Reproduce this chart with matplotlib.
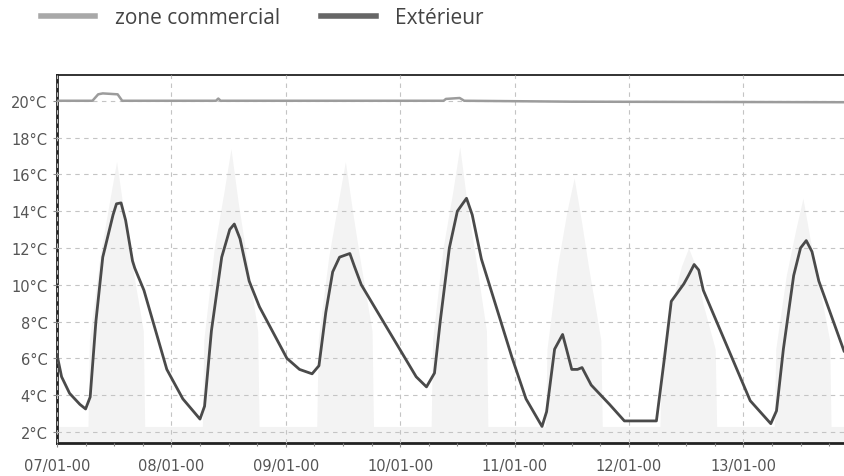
"""Zone commercial vs outdoor temperature, 07/01 - 13/01"""

import numpy as np
import matplotlib.pyplot as plt
from matplotlib.lines import Line2D

# Time in days since 07/01 00:00
EXT_DAYS = [0.00, 0.04, 0.11, 0.20, 0.25, 0.29, 0.34, 0.40, 0.49, 0.52, 0.56,
            0.60, 0.66, 0.68, 0.76, 0.96, 1.10, 1.25, 1.29, 1.35, 1.44, 1.51,
            1.55, 1.60, 1.68, 1.77, 2.01, 2.12, 2.23, 2.29, 2.35, 2.41, 2.47,
            2.56, 2.60, 2.66, 3.14, 3.23, 3.30, 3.35, 3.43, 3.50, 3.58, 3.63,
            3.71, 3.98, 4.10, 4.24, 4.28, 4.35, 4.42, 4.45, 4.50, 4.55, 4.59,
            4.67, 4.83, 4.96, 5.24, 5.31, 5.37, 5.48, 5.52, 5.57, 5.61, 5.65,
            6.06, 6.24, 6.29, 6.35, 6.44, 6.50, 6.55, 6.60, 6.66, 6.88]
EXT_TEMP = [6.2, 5.0, 4.1, 3.5, 3.25, 3.9, 8.0, 11.5, 13.8, 14.4, 14.45,
            13.5, 11.3, 10.9, 9.7, 5.4, 3.8, 2.7, 3.4, 7.5, 11.5, 13.0,
            13.3, 12.5, 10.2, 8.8, 6.0, 5.4, 5.16, 5.6, 8.5, 10.7, 11.5,
            11.7, 11.0, 10.0, 5.0, 4.45, 5.2, 8.0, 12.0, 14.0, 14.7, 13.8,
            11.4, 6.0, 3.8, 2.3, 3.1, 6.5, 7.3, 6.6, 5.4, 5.4, 5.5,
            4.55, 3.5, 2.6, 2.6, 6.0, 9.1, 10.05, 10.5, 11.1, 10.8, 9.7,
            3.7, 2.45, 3.15, 6.5, 10.5, 12.0, 12.4, 11.8, 10.2, 6.4]

ZONE_DAYS = [0.00, 0.31, 0.36, 0.40, 0.53, 0.57, 1.39, 1.41, 1.43, 3.38,
             3.40, 3.52, 3.56, 4.50, 6.88]
ZONE_TEMP = [20.0, 20.0, 20.35, 20.4, 20.35, 20.0, 20.0, 20.12, 20.0, 20.0,
             20.1, 20.15, 20.0, 19.95, 19.92]

# Light background series (daily peaks), read at fixed hours of each day
SUN_BASE = 2.3
SUN_HOURS = [6.5, 6.8, 9.0, 11.0, 12.5, 14.0, 15.5, 18.1, 18.4]
SUN_PEAKS = [
    [2.3, 7.0, 11.5, 14.5, 16.7, 14.0, 11.5, 7.5, 2.3],
    [2.3, 7.0, 12.0, 15.0, 17.4, 14.5, 12.0, 7.5, 2.3],
    [2.3, 7.0, 11.5, 14.5, 16.7, 14.0, 11.5, 7.5, 2.3],
    [2.3, 7.0, 12.0, 15.0, 17.5, 14.5, 12.0, 7.5, 2.3],
    [2.3, 6.5, 11.0, 14.0, 15.8, 13.5, 11.0, 7.0, 2.3],
    [2.3, 6.0, 9.0, 11.0, 12.0, 11.0, 9.0, 6.5, 2.3],
    [2.3, 6.5, 10.5, 13.0, 14.7, 12.5, 10.5, 7.0, 2.3],
]

DAY_LABELS = ["07/01-00", "08/01-00", "09/01-00", "10/01-00",
              "11/01-00", "12/01-00", "13/01-00"]
Y_TICKS = [2, 4, 6, 8, 10, 12, 14, 16, 18, 20]

RANGE_X = (0, 6.88)
RANGE_Y = (1.4, 21.4)
DPI = 100

# -----------------------------------------------------------------------------
sun_x = []
sun_y = []
for i, vals in enumerate(SUN_PEAKS):
    sun_x.append(i)
    sun_y.append(SUN_BASE)
    for h, v in zip(SUN_HOURS, vals):
        sun_x.append(i + h / 24.)
        sun_y.append(v)
sun_x.append(RANGE_X[1])
sun_y.append(SUN_BASE)

fig = plt.figure(figsize=(844 / DPI, 477 / DPI), dpi=DPI)
ax = fig.add_axes([57 / 844, 1 - 444 / 477, 1 - 57 / 844, (444 - 76) / 477])

ax.fill_between(sun_x, RANGE_Y[0], sun_y, color="#f3f3f3", lw=0, zorder=1)
ax.plot(ZONE_DAYS, ZONE_TEMP, color="#9c9c9c", lw=1.8, zorder=3)
ax.plot(EXT_DAYS, EXT_TEMP, color="#4a4a4a", lw=2.0, zorder=4)

ax.set_xlim(RANGE_X)
ax.set_ylim(RANGE_Y)
ax.set_xticks(np.arange(len(DAY_LABELS)))
ax.set_xticklabels(DAY_LABELS)
ax.set_xticks(np.arange(0, RANGE_X[1], 0.25), minor=True)
ax.set_yticks(Y_TICKS)
ax.set_yticklabels(["{}°C".format(t) for t in Y_TICKS])
ax.tick_params(axis="both", which="major", labelsize=10.5,
               labelcolor="#555555", color="#888888", length=3, width=0.8)
ax.tick_params(axis="x", which="minor", color="#888888", length=2.5,
               width=0.8)
ax.tick_params(axis="x", pad=8)
ax.tick_params(axis="y", pad=4)

ax.grid(True, which="major", color="#c4c4c4", lw=0.8, ls=(0, (4, 4)))
ax.set_axisbelow(False)
for s in ["left", "bottom", "top"]:
    ax.spines[s].set_color("#222222")
ax.spines["left"].set_linewidth(2.0)
ax.spines["bottom"].set_linewidth(2.0)
ax.spines["top"].set_linewidth(1.3)
ax.spines["right"].set_visible(False)

handles = [Line2D([], [], color="#a8a8a8", lw=4),
           Line2D([], [], color="#666666", lw=4)]
fig.legend(handles, ["zone commercial", "Extérieur"], loc="upper left",
           bbox_to_anchor=(0.026, 1.022), ncol=2, frameon=False,
           handlelength=2.6, handletextpad=0.95, columnspacing=2.0,
           prop={"family": "Open Sans", "size": 15}, labelcolor="#444444")

plt.savefig("out.png", dpi=DPI)
